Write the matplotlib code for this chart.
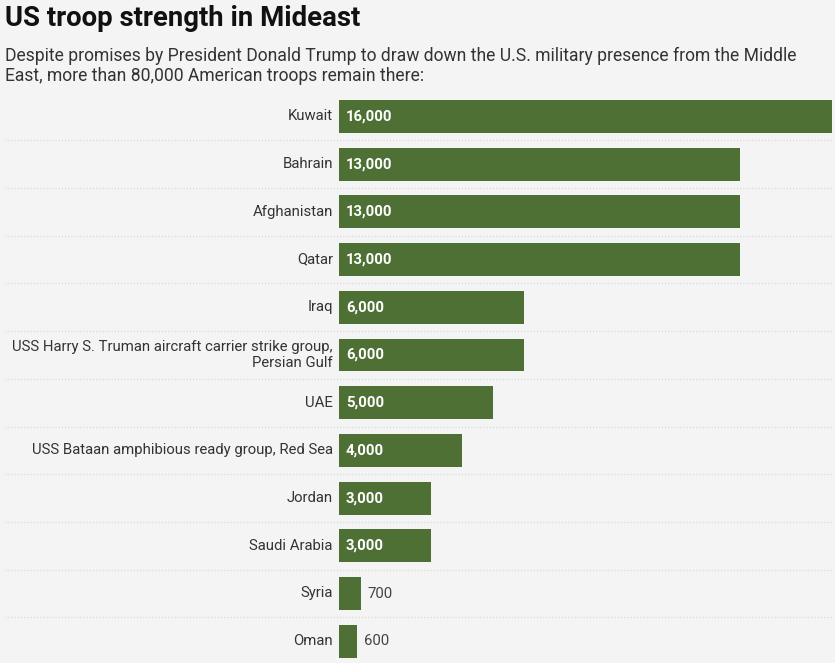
import matplotlib.pyplot as plt

plt.rcParams['font.family'] = ['Roboto', 'DejaVu Sans']

locations = [
    "Kuwait",
    "Bahrain",
    "Afghanistan",
    "Qatar",
    "Iraq",
    "USS Harry S. Truman aircraft carrier strike group,\nPersian Gulf",
    "UAE",
    "USS Bataan amphibious ready group, Red Sea",
    "Jordan",
    "Saudi Arabia",
    "Syria",
    "Oman",
]
troops = [16000, 13000, 13000, 13000, 6000, 6000, 5000, 4000, 3000, 3000, 700, 600]

bg = "#f4f4f4"
green = "#4e7035"
W, H = 835, 663

fig = plt.figure(figsize=(W / 100, H / 100), dpi=100, facecolor=bg)

# axes placed in pixel terms: bars start at x=339, Kuwait ends at x=832
row_h = 47.7
top_px = 116.5 - row_h / 2
ax = fig.add_axes([339 / W, 0, 493 / W, 1 - top_px / H])
ax.set_facecolor(bg)
ax.set_xlim(0, 16000)
ax.set_ylim((H - 116.5) / row_h, -0.5)
ax.axis("off")

pos = list(range(len(locations)))
ax.barh(pos, troops, height=0.69, color=green)

# dotted row separators running across the whole width
sep = [p + 0.5 for p in pos[:-1]]
ax.hlines(sep, -334 / 493, 1, transform=ax.get_yaxis_transform(),
          colors="#dadada", linestyles=(0, (1, 1.5)), linewidth=0.9, clip_on=False)

for p, name, v in zip(pos, locations, troops):
    ax.annotate(name, (0, p), xytext=(-4.5, 0), textcoords="offset points",
                ha="right", va="center", ma="right", fontsize=10.7,
                color="#333333", linespacing=1.1)
    txt = f"{v:,}"
    if v >= 2000:
        ax.annotate(txt, (0, p), xytext=(5, 0), textcoords="offset points",
                    ha="left", va="center", fontsize=10.7,
                    color="white", fontweight="bold")
    else:
        ax.annotate(txt, (v, p), xytext=(5, 0), textcoords="offset points",
                    ha="left", va="center", fontsize=10.7, color="#444444")

fig.text(5 / W, 1 - 5 / H, "US troop strength in Mideast", ha="left", va="top",
         fontsize=19.8, fontweight="bold", color="#111111")
fig.text(5 / W, 1 - 47 / H,
         "Despite promises by President Donald Trump to draw down the U.S. military presence from the Middle\n"
         "East, more than 80,000 American troops remain there:",
         ha="left", va="top", fontsize=12.65, color="#333333", linespacing=1.12)

fig.savefig("out.png", dpi=100, facecolor=bg)
